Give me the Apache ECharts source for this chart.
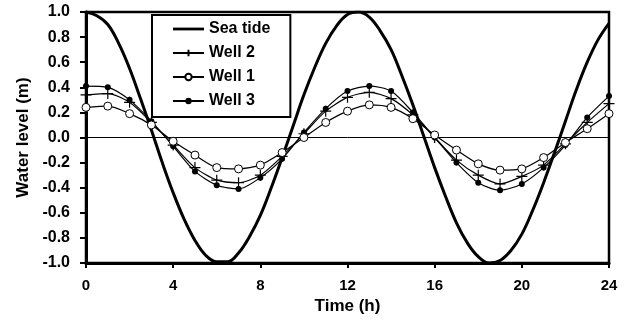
<!DOCTYPE html>
<html>
<head>
<meta charset="utf-8">
<script src="https://cdn.jsdelivr.net/npm/echarts@6/dist/echarts.min.js"></script>
<style>
  html, body { margin: 0; padding: 0; background: #fff; }
  #chart { width: 630px; height: 324px; }
</style>
</head>
<body>
<div id="chart"></div>
<script>
// hourly observations for the wells
const hours = [0, 1, 2, 3, 4, 5, 6, 7, 8, 9, 10, 11, 12, 13, 14, 15, 16, 17, 18, 19, 20, 21, 22, 23, 24];
const well1 = [0.24, 0.25, 0.19, 0.10, -0.03, -0.14, -0.24, -0.25, -0.22, -0.12, 0.00, 0.12, 0.21, 0.26, 0.24, 0.15, 0.02, -0.10, -0.21, -0.26, -0.25, -0.16, -0.04, 0.07, 0.19];
const well2 = [0.34, 0.35, 0.28, 0.12, -0.06, -0.24, -0.34, -0.36, -0.30, -0.15, 0.03, 0.21, 0.32, 0.36, 0.31, 0.18, 0.00, -0.18, -0.30, -0.37, -0.31, -0.22, -0.05, 0.12, 0.27];
const well3 = [0.41, 0.40, 0.30, 0.13, -0.07, -0.27, -0.38, -0.41, -0.32, -0.17, 0.04, 0.23, 0.37, 0.41, 0.37, 0.20, 0.00, -0.20, -0.36, -0.42, -0.37, -0.24, -0.06, 0.16, 0.33];

// sea tide, read every half hour
const tideTime = [0, 0.5, 1, 1.5, 2, 2.5, 3, 3.5, 4, 4.5, 5, 5.5, 6, 6.5, 7, 7.5, 8, 8.5, 9, 9.5, 10, 10.5, 11, 11.5, 12, 12.5, 13, 13.5, 14, 14.5, 15, 15.5, 16, 16.5, 17, 17.5, 18, 18.5, 19, 19.5, 20, 20.5, 21, 21.5, 22, 22.5, 23, 23.5, 24];
const seaTide = [1.00, 0.97, 0.90, 0.75, 0.55, 0.31, 0.06, -0.20, -0.44, -0.65, -0.82, -0.94, -0.99, -0.99, -0.92, -0.79, -0.62, -0.40, -0.16, 0.09, 0.34, 0.56, 0.75, 0.89, 0.98, 1.00, 0.96, 0.85, 0.70, 0.49, 0.26, 0.01, -0.24, -0.47, -0.68, -0.84, -0.95, -1.00, -0.98, -0.90, -0.77, -0.58, -0.36, -0.12, 0.13, 0.38, 0.60, 0.78, 0.91];

const FONT = "'Liberation Sans', Arial, sans-serif";
const pair = (xs, ys) => xs.map((x, i) => [x, ys[i]]);

const chart = echarts.init(document.getElementById("chart"), null, { renderer: "canvas" });

const options = {
  backgroundColor: "#fff",
  animation: false,
  textStyle: { fontFamily: FONT, fontWeight: "bold", color: "#000" },
  grid: {
    left: 86,
    right: 21,
    top: 12,
    bottom: 61,
    show: true,
    borderColor: "#000",
    borderWidth: 2.5,
  },
  legend: {
    data: [
      { name: "Sea tide", icon: "path://M0,0L100,0L100,9L0,9Z" },
      "Well 2",
      "Well 1",
      "Well 3",
    ],
    orient: "vertical",
    left: 152,
    top: 15,
    padding: [6, 20, 8, 20],
    backgroundColor: "#fff",
    borderColor: "#000",
    borderWidth: 2,
    itemWidth: 31,
    itemHeight: 8,
    itemGap: 8,
    textStyle: { fontFamily: FONT, fontWeight: "bold", fontSize: 16, color: "#000", lineHeight: 14 },
  },
  xAxis: {
    type: "value",
    min: 0,
    max: 24,
    interval: 4,
    name: "Time (h)",
    nameLocation: "middle",
    nameGap: 27,
    nameTextStyle: { fontFamily: FONT, fontWeight: "bold", fontSize: 17, color: "#000" },
    axisLine: { onZero: false, lineStyle: { color: "#000", width: 3 } },
    axisTick: { show: true, length: 5, lineStyle: { color: "#000", width: 2 } },
    axisLabel: { margin: 15, fontFamily: FONT, fontWeight: "bold", fontSize: 15, color: "#000" },
    splitLine: { show: false },
  },
  yAxis: {
    type: "value",
    min: -1,
    max: 1,
    interval: 0.2,
    name: "Water level (m)",
    nameLocation: "middle",
    nameGap: 52,
    nameTextStyle: { fontFamily: FONT, fontWeight: "bold", fontSize: 17, color: "#000" },
    axisLine: { show: true, lineStyle: { color: "#000", width: 3 } },
    axisTick: { show: true, length: 6, lineStyle: { color: "#000", width: 2 } },
    axisLabel: {
      margin: 16,
      fontFamily: FONT,
      fontWeight: "bold",
      fontSize: 16,
      color: "#000",
      formatter(v) {
        return Math.abs(v) < 1e-9 ? "0.0" : v.toFixed(1);
      },
    },
    splitLine: { show: false },
  },
  series: [
    {
      name: "Sea tide",
      type: "line",
      data: pair(tideTime, seaTide),
      smooth: 0.4,
      symbol: "none",
      lineStyle: { color: "#000", width: 3 },
      itemStyle: { color: "#000" },
      z: 3,
    },
    {
      name: "Well 2",
      type: "line",
      data: pair(hours, well2),
      smooth: 0.25,
      symbol: "path://M0,5L10,5M5,0L5,10",
      symbolSize: 11,
      lineStyle: { color: "#000", width: 1.2 },
      itemStyle: { color: "#000", borderColor: "#000", borderWidth: 1.2 },
      z: 4,
    },
    {
      name: "Well 1",
      type: "line",
      data: pair(hours, well1),
      smooth: 0.25,
      symbol: "circle",
      symbolSize: 8,
      lineStyle: { color: "#000", width: 1.2 },
      itemStyle: { color: "#fff", borderColor: "#000", borderWidth: 1 },
      markLine: {
        silent: true,
        symbol: "none",
        label: { show: false },
        lineStyle: { color: "#000", width: 1, type: "solid" },
        data: [{ yAxis: 0 }],
      },
      z: 5,
    },
    {
      name: "Well 3",
      type: "line",
      data: pair(hours, well3),
      smooth: 0.25,
      symbol: "circle",
      symbolSize: 6,
      lineStyle: { color: "#000", width: 1.2 },
      itemStyle: { color: "#000" },
      z: 4,
    },
  ],
};

chart.setOption(options);
</script>
</body>
</html>
